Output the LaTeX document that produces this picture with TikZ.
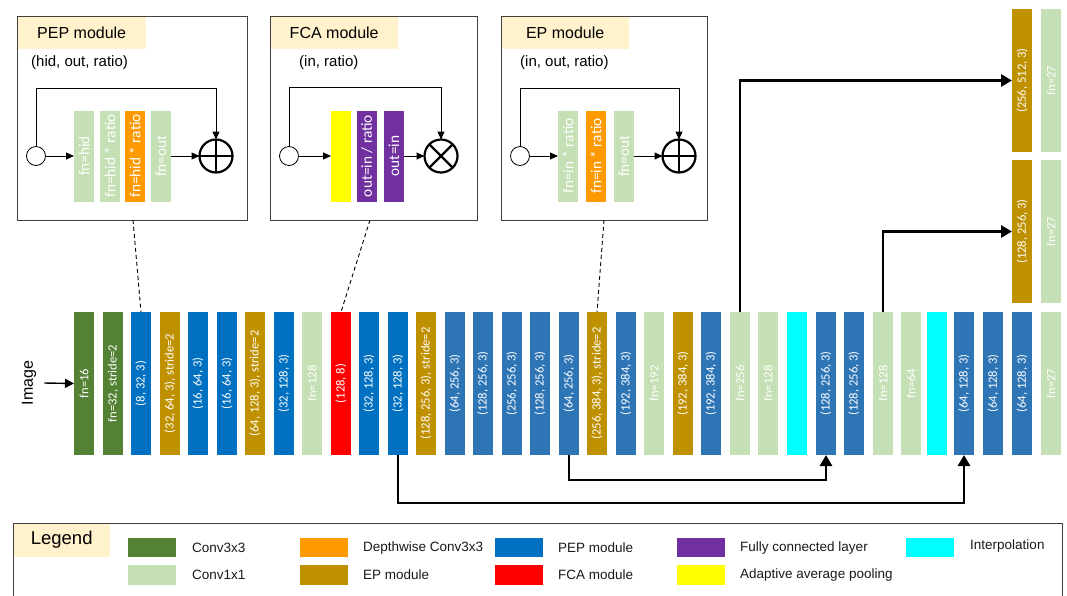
\documentclass[tikz,border=0pt]{standalone}
\usepackage{fontspec}
\setmainfont{Liberation Sans}
\newfontfamily\calibri{Carlito}
\usetikzlibrary{arrows.meta}
\definecolor{convg}{HTML}{548235}
\definecolor{conv1}{HTML}{C5E0B4}
\definecolor{pepb}{HTML}{0070C0}
\definecolor{pepc}{HTML}{2E75B6}
\definecolor{epg}{HTML}{BF9000}
\definecolor{dwo}{HTML}{FF9900}
\definecolor{fcar}{HTML}{FF0000}
\definecolor{fcp}{HTML}{7030A0}
\definecolor{aap}{HTML}{FFFF00}
\definecolor{interp}{HTML}{00FFFF}
\definecolor{ttl}{HTML}{FFF2CC}
\definecolor{frame}{HTML}{404040}
\begin{document}
\begin{tikzpicture}[x=1pt,y=-1pt,
  layer/.style={rotate=90, minimum width=143pt, minimum height=20pt, inner sep=0pt, outer sep=0pt, text=white, font=\calibri\fontsize{12.6}{14}\selectfont},
  sublayer/.style={rotate=90, minimum width=91pt, minimum height=20pt, inner sep=0pt, outer sep=0pt, text=white, font=\calibri\fontsize{15.3}{17}\selectfont},
  modframe/.style={draw=frame, line width=1pt},
  modtitle/.style={fill=ttl, anchor=north west, minimum height=33pt, inner sep=0pt, font=\fontsize{16}{19}\selectfont},
  modargs/.style={anchor=west, inner sep=0pt, font=\fontsize{15}{18}\selectfont},
  innode/.style={circle, draw, fill=white, minimum size=19pt, inner sep=0pt, outer sep=0pt, line width=0.8pt},
  opnode/.style={circle, draw, minimum size=33pt, inner sep=0pt, outer sep=0pt, line width=2.2pt},
  thinarrow/.style={line width=1pt, -{Triangle[length=8pt,width=7pt]}},
  bigarrow/.style={line width=2.8pt, -{Triangle[length=11pt,width=12pt]}},
  zoomline/.style={line width=0.9pt, dash pattern=on 4pt off 3pt},
  swatch/.style={minimum width=48pt, minimum height=19.5pt, inner sep=0pt, anchor=west},
  legtext/.style={anchor=west, inner sep=0pt, font=\fontsize{13.5}{16}\selectfont, text=black!90},
]
\useasboundingbox (0,0) rectangle (1067,595);

% ---------- PEP module ----------
\node[modtitle, minimum width=129pt] (peptitle) at (17,16) {PEP module};
\node[modargs] (pepargs) at (31,63) {(hid, out, ratio)};
\node[innode] (pin) at (36,156) {};
\node[sublayer, fill=conv1] (pb1) at (84,156) {fn=hid};
\node[sublayer, fill=conv1] (pb2) at (110,156) {fn=hid * ratio};
\node[sublayer, fill=dwo] (pb3) at (135,156) {fn=hid * ratio};
\node[sublayer, fill=conv1] (pb4) at (161,156) {fn=out};
\node[opnode] (psum) at (216,156) {};
\draw[line width=2.2pt] (psum.north) -- (psum.south) (psum.west) -- (psum.east);
\coordinate (ploop) at (216,88);
\draw[thinarrow] (pin.east) -- (pb1.north);
\draw[thinarrow] (pb4.south) -- (psum.west);
\draw[thinarrow] (pin.north) |- (ploop) -- (psum.north);
\draw[modframe] (17,16) rectangle (247,220);

% ---------- FCA module ----------
\node[modtitle, minimum width=128pt] (fcatitle) at (270,16) {FCA module};
\node[modargs] (fcaargs) at (299,63) {(in, ratio)};
\node[innode] (fin) at (289,156) {};
\node[sublayer, fill=aap] (fb1) at (341,156) {};
\node[sublayer, fill=fcp] (fb2) at (367,156) {out=in / ratio};
\node[sublayer, fill=fcp] (fb3) at (394,156) {out=in};
\node[opnode] (fsum) at (441,156) {};
\draw[line width=2.2pt] (fsum.north east) -- (fsum.south west) (fsum.north west) -- (fsum.south east);
\coordinate (floop) at (441,87);
\draw[thinarrow] (fin.east) -- (fb1.north);
\draw[thinarrow] (fb3.south) -- (fsum.west);
\draw[thinarrow] (fin.north) |- (floop) -- (fsum.north);
\draw[modframe] (270,16) rectangle (477,220);

% ---------- EP module ----------
\node[modtitle, minimum width=128pt] (eptitle) at (501,16) {EP module};
\node[modargs] (epargs) at (520,63) {(in, out, ratio)};
\node[innode] (ein) at (520,156) {};
\node[sublayer, fill=conv1] (eb1) at (568,156) {fn=in * ratio};
\node[sublayer, fill=dwo] (eb2) at (596,156) {fn=in * ratio};
\node[sublayer, fill=conv1] (eb3) at (624,156) {fn=out};
\node[opnode] (esum) at (679,156) {};
\draw[line width=2.2pt] (esum.north) -- (esum.south) (esum.west) -- (esum.east);
\coordinate (eloop) at (679,88);
\draw[thinarrow] (ein.east) -- (eb1.north);
\draw[thinarrow] (eb3.south) -- (esum.west);
\draw[thinarrow] (ein.north) |- (eloop) -- (esum.north);
\draw[modframe] (501,16) rectangle (707,220);

% ---------- main network ----------
\node[rotate=90, inner sep=2pt, font=\fontsize{16}{19}\selectfont] (img) at (29,383) {Image};
\node[layer, fill=convg] (b1) at (84,383.5) {fn=16};
\node[layer, fill=convg] (b2) at (113,383.5) {fn=32, stride=2};
\node[layer, fill=pepb] (b3) at (141,383.5) {(8, 32, 3)};
\node[layer, fill=epg] (b4) at (170,383.5) {(32, 64, 3), stride=2};
\node[layer, fill=pepb] (b5) at (198,383.5) {(16, 64, 3)};
\node[layer, fill=pepb] (b6) at (227,383.5) {(16, 64, 3)};
\node[layer, fill=epg] (b7) at (255,383.5) {(64, 128, 3), stride=2};
\node[layer, fill=pepb] (b8) at (284,383.5) {(32, 128, 3)};
\node[layer, fill=conv1] (b9) at (312,383.5) {fn=128};
\node[layer, fill=fcar] (b10) at (341,383.5) {(128, 8)};
\node[layer, fill=pepb] (b11) at (369,383.5) {(32, 128, 3)};
\node[layer, fill=pepb] (b12) at (398,383.5) {(32, 128, 3)};
\node[layer, fill=epg] (b13) at (426,383.5) {(128, 256, 3), stride=2};
\node[layer, fill=pepc] (b14) at (455,383.5) {(64, 256, 3)};
\node[layer, fill=pepc] (b15) at (483,383.5) {(128, 256, 3)};
\node[layer, fill=pepc] (b16) at (512,383.5) {(256, 256, 3)};
\node[layer, fill=pepc] (b17) at (540,383.5) {(128, 256, 3)};
\node[layer, fill=pepc] (b18) at (569,383.5) {(64, 256, 3)};
\node[layer, fill=epg] (b19) at (597,383.5) {(256, 384, 3), stride=2};
\node[layer, fill=pepc] (b20) at (626,383.5) {(192, 384, 3)};
\node[layer, fill=conv1] (b21) at (654,383.5) {fn=192};
\node[layer, fill=epg] (b22) at (683,383.5) {(192, 384, 3)};
\node[layer, fill=pepc] (b23) at (711,383.5) {(192, 384, 3)};
\node[layer, fill=conv1] (b24) at (740,383.5) {fn=256};
\node[layer, fill=conv1] (b25) at (768,383.5) {fn=128};
\node[layer, fill=interp] (b26) at (797,383.5) {};
\node[layer, fill=pepc] (b27) at (826,383.5) {(128, 256, 3)};
\node[layer, fill=pepc] (b28) at (854,383.5) {(128, 256, 3)};
\node[layer, fill=conv1] (b29) at (883,383.5) {fn=128};
\node[layer, fill=conv1] (b30) at (911,383.5) {fn=64};
\node[layer, fill=interp] (b31) at (937,383.5) {};
\node[layer, fill=pepc] (b32) at (964,383.5) {(64, 128, 3)};
\node[layer, fill=pepc] (b33) at (993,383.5) {(64, 128, 3)};
\node[layer, fill=pepc] (b34) at (1022,383.5) {(64, 128, 3)};
\node[layer, fill=conv1] (b35) at (1051,383.5) {fn=27};

% output heads
\node[layer, fill=epg] (o1) at (1022,80.5) {(256, 512, 3)};
\node[layer, fill=conv1] (o2) at (1051,80.5) {fn=27};
\node[layer, fill=epg] (o3) at (1022,231.5) {(128, 256, 3)};
\node[layer, fill=conv1] (o4) at (1051,231.5) {fn=27};

% connectors
\draw[line width=1.4pt, -{Triangle[length=9pt,width=9pt]}] (img.south) ++(6,0) -- (b1.north);
\draw[bigarrow] (b24.east) |- (o1.north);
\draw[bigarrow] (b29.east) |- (o3.north);
\draw[bigarrow] (b18.west) -- ++(0,25) -| (b27.west);
\draw[bigarrow] (b12.west) -- ++(0,48) -| (b32.west);

% module call-outs
\coordinate (pepd) at (133,220);
\coordinate (fcad) at (370,220);
\coordinate (epd) at (604,220);
\draw[zoomline] (pepd) -- (b3.east);
\draw[zoomline] (fcad) -- (b10.east);
\draw[zoomline] (epd) -- (b19.east);

% ---------- legend ----------
\node[modtitle, minimum width=97pt, minimum height=34pt, font=\fontsize{18.5}{22}\selectfont] (legtitle) at (13,523) {Legend};
\draw[modframe] (13,523) rectangle (1062,600);
\node[swatch, fill=convg] (lg1) at (128,547.5) {};
\node[legtext] (lt1) at (192,547.5) {Conv3x3};
\node[swatch, fill=conv1] (lg2) at (128,575) {};
\node[legtext] (lt2) at (192,575) {Conv1x1};
\node[swatch, fill=dwo] (lg3) at (300,547.5) {};
\node[legtext] (lt3) at (363,547.5) {Depthwise Conv3x3};
\node[swatch, fill=epg] (lg4) at (300,575) {};
\node[legtext] (lt4) at (363,575) {EP module};
\node[swatch, fill=pepb] (lg5) at (495,547.5) {};
\node[legtext] (lt5) at (558,547.5) {PEP module};
\node[swatch, fill=fcar] (lg6) at (495,575) {};
\node[legtext] (lt6) at (558,575) {FCA module};
\node[swatch, fill=fcp] (lg7) at (677,547.5) {};
\node[legtext] (lt7) at (740,547.5) {Fully connected layer};
\node[swatch, fill=aap] (lg8) at (677,575) {};
\node[legtext] (lt8) at (740,575) {Adaptive average pooling};
\node[swatch, fill=interp] (lg9) at (906,547.5) {};
\node[legtext] (lt9) at (970,546) {Interpolation};
\end{tikzpicture}
\end{document}
